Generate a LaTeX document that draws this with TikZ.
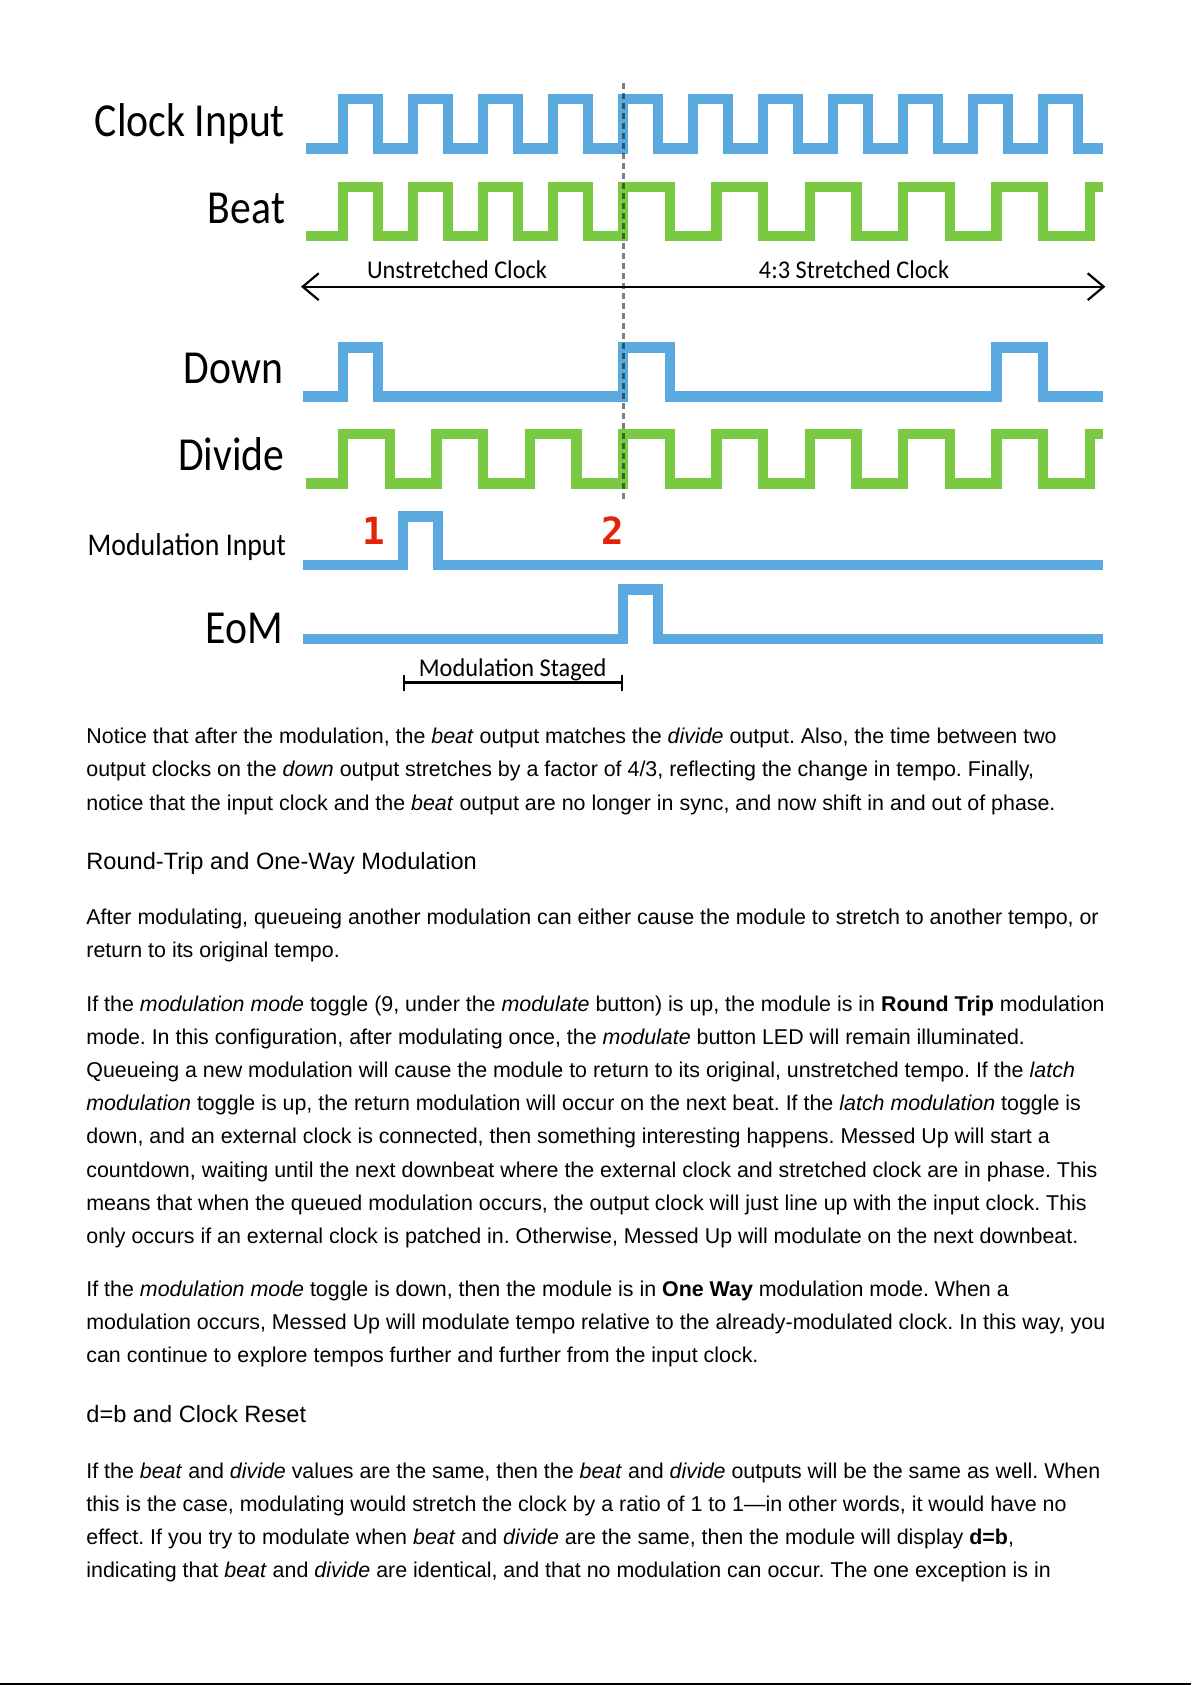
\documentclass[tikz,border=0pt]{standalone}
\usepackage{fontspec}
\newfontfamily\bodyfont{Liberation Sans}
\newfontfamily\sigfont[FakeStretch=0.88]{Carlito}
\newfontfamily\notefont[FakeStretch=0.95]{Carlito}
\newfontfamily\digitfont{DejaVu Sans Mono}
\usepackage{xcolor}
\usetikzlibrary{positioning, arrows.meta}

\definecolor{sigblue}{RGB}{90,170,223}
\definecolor{siggreen}{RGB}{122,201,67}
\definecolor{markred}{RGB}{226,35,10}

\frenchspacing

\begin{document}
\begin{tikzpicture}[
    x=0.5pt, y=-0.5pt,
    wave/.style      = {line width=5.25pt},
    bluewave/.style  = {wave, draw=sigblue},
    greenwave/.style = {wave, draw=siggreen},
    siglabel/.style  = {anchor=base east, inner sep=0pt,
                        font=\sigfont\fontsize{23.7pt}{28pt}\selectfont},
    note/.style      = {anchor=base, inner sep=0pt,
                        font=\notefont\fontsize{12.8pt}{15pt}\selectfont},
    marker/.style    = {anchor=base, inner sep=0pt, text=markred,
                        font=\digitfont\bfseries\fontsize{18.7pt}{20pt}\selectfont},
    para/.style      = {anchor=base west, inner sep=0pt, align=left,
                        font=\bodyfont\fontsize{10.7pt}{16.55pt}\selectfont},
    heading/.style   = {anchor=base west, inner sep=0pt,
                        font=\bodyfont\fontsize{11.8pt}{14pt}\selectfont},
    span/.style      = {{Straight Barb[length=8pt, width=13.4pt]}-{Straight Barb[length=8pt, width=13.4pt]},
                        line width=1.1pt},
    staged/.style    = {{Bar[width=7.9pt]}-{Bar[width=7.9pt]}, line width=1.25pt},
    marker line/.style = {line width=1.4pt, black, opacity=0.5,
                          dash pattern=on 3pt off 2pt}
]
\useasboundingbox (0,0) rectangle (1191,1685);

% Signal labels
\node[siglabel] (lclock)  at (285.4,136.7) {Clock Input};
\node[siglabel] (lbeat)   at (285.4,224)   {Beat};
\node[siglabel] (ldown)   at (283.6,383.3) {Down};
\node[siglabel] (ldivide) at (285,470)     {Divide};
\node[siglabel, font=\sigfont\fontsize{15.8pt}{18pt}\selectfont]
                (lmod)    at (286.4,555)   {Modulation Input};
\node[siglabel] (leom)    at (283.6,643.3) {EoM};

% Clock input
\draw[bluewave] (306,148.3)
    foreach \k in {0,...,10} { -| ({343.2+70*\k},99.2) -| ({378.2+70*\k},148.3) }
    -- (1103,148.3);

% Beat: unstretched, then 4:3 stretched
\draw[greenwave] (306,236)
    foreach \k in {0,...,3} { -| ({343.2+70*\k},187) -| ({378.2+70*\k},236) }
    foreach \k in {0,...,4} { -| ({623.2+280/3*\k},187) -| ({669.87+280/3*\k},236) }
    -| (1089.9,187) -- (1103,187);

% Down
\draw[bluewave] (302.5,396.3) -| (343.2,347.5) -| (378.2,396.3)
    -| (623.2,347.5) -| (669.9,396.3)
    -| (996.5,347.5) -| (1043.2,396.3) -- (1103,396.3);

% Divide
\draw[greenwave] (306,483.3)
    foreach \k in {0,...,7} { -| ({343.2+280/3*\k},434.2) -| ({389.87+280/3*\k},483.3) }
    -| (1089.9,434.2) -- (1103,434.2);

% Modulation input
\draw[bluewave] (302.5,565) -| (403.2,516.3) -| (437.9,565) -- (1103,565);
\node[marker] (m1) at (374,544) {1};
\node[marker] (m2) at (613,544) {2};

% EoM
\draw[bluewave] (302.5,638.8) -| (623.2,589.7) -| (658.2,638.8) -- (1103,638.8);

% Modulation point
\coordinate (dtop) at (623.2,83.3);
\coordinate (dbot) at (623.2,501.7);
\draw[marker line] (dtop) -- (dbot);

% Clock spans
\coordinate (tl) at (301,286.7);
\coordinate (tr) at (1105.4,286.7);
\draw[span] (tl) -- (tr);
\node[note] (unstr) at (457,278.3) {Unstretched Clock};
\node[note] (str)   at (854,278.3) {4:3 Stretched Clock};

% Staged interval
\coordinate (sl) at (402.5,682.7);
\coordinate (sr) at (623.2,682.7);
\draw[staged] (sl) -- (sr);
\node[note] (stg) at (512.7,676) {Modulation Staged};

% Text below the diagram (anchored on the last line)
\node[para] (p1) at (86,810) {Notice that after the modulation, the \textit{beat} output matches the \textit{divide} output. Also, the time between two\\
output clocks on the \textit{down} output stretches by a factor of 4/3, reflecting the change in tempo. Finally,\\
notice that the input clock and the \textit{beat} output are no longer in sync, and now shift in and out of phase.};

\node[heading] (h1) at (86,869.6) {Round-Trip and One-Way Modulation};

\node[para] (p2) at (86,957.5) {After modulating, queueing another modulation can either cause the module to stretch to another tempo, or\\
return to its original tempo.};

\node[para] (p3) at (86,1243.2) {If the \textit{modulation mode} toggle (9, under the \textit{modulate} button) is up, the module is in \textbf{Round Trip} modulation\\
mode. In this configuration, after modulating once, the \textit{modulate} button LED will remain illuminated.\\
Queueing a new modulation will cause the module to return to its original, unstretched tempo. If the \textit{latch}\\
\textit{modulation} toggle is up, the return modulation will occur on the next beat. If the \textit{latch modulation} toggle is\\
down, and an external clock is connected, then something interesting happens. Messed Up will start a\\
countdown, waiting until the next downbeat where the external clock and stretched clock are in phase. This\\
means that when the queued modulation occurs, the output clock will just line up with the input clock. This\\
only occurs if an external clock is patched in. Otherwise, Messed Up will modulate on the next downbeat.};

\node[para] (p4) at (86,1362.5) {If the \textit{modulation mode} toggle is down, then the module is in \textbf{One Way} modulation mode. When a\\
modulation occurs, Messed Up will modulate tempo relative to the already-modulated clock. In this way, you\\
can continue to explore tempos further and further from the input clock.};

\node[heading] (h2) at (86,1422) {d=b and Clock Reset};

\node[para] (p5) at (86,1577.3) {If the \textit{beat} and \textit{divide} values are the same, then the \textit{beat} and \textit{divide} outputs will be the same as well. When\\
this is the case, modulating would stretch the clock by a ratio of 1 to 1\textemdash in other words, it would have no\\
effect. If you try to modulate when \textit{beat} and \textit{divide} are the same, then the module will display \textbf{d=b},\\
indicating that \textit{beat} and \textit{divide} are identical, and that no modulation can occur. The one exception is in};

% Bottom edge
\draw[line width=1pt] (0,1683.5) -- (1191,1683.5);
\end{tikzpicture}
\end{document}
